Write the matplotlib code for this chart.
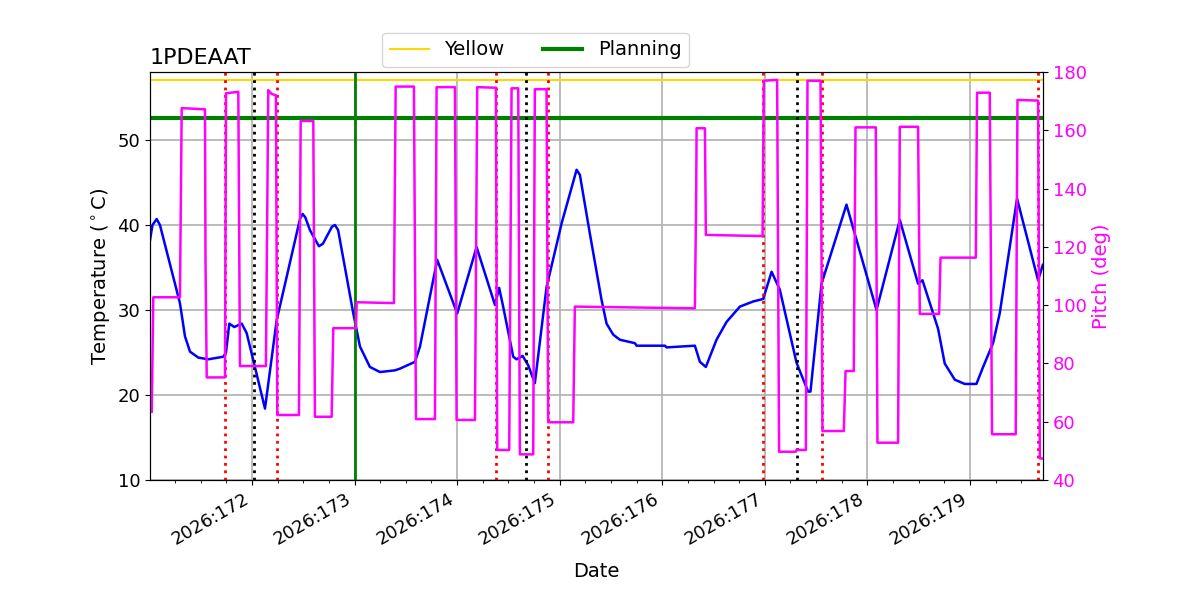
import matplotlib
matplotlib.use("Agg")
import matplotlib.pyplot as plt
import matplotlib.dates as mdates
import numpy as np
from datetime import datetime, timedelta

# temperature trace, day-of-year 2026
temp_day = [171.006, 171.030, 171.071, 171.103, 171.298, 171.347, 171.396, 171.477, 171.574,
            171.720, 171.747, 171.779, 171.828, 171.900, 171.948, 172.029, 172.127, 172.241,
            172.47, 172.494, 172.52, 172.565, 172.653, 172.692, 172.78, 172.809, 172.84,
            172.988, 173.053, 173.150, 173.248, 173.394, 173.443, 173.589, 173.638, 173.806,
            174.001, 174.190, 174.369, 174.410, 174.449, 174.547, 174.580, 174.639, 174.693,
            174.758, 174.872, 175.019, 175.165, 175.197, 175.294, 175.408, 175.457, 175.522,
            175.587, 175.733, 175.750, 176.026, 176.042, 176.318, 176.367, 176.425, 176.529,
            176.627, 176.757, 176.886, 176.984, 177.066, 177.146, 177.309, 177.422, 177.445,
            177.553, 177.796, 178.089, 178.316, 178.494, 178.537, 178.689, 178.754, 178.852,
            178.949, 179.063, 179.128, 179.225, 179.290, 179.459, 179.664, 179.710]
temp_val = [38.2, 40.0, 40.7, 40.0, 30.8, 26.9, 25.1, 24.4, 24.2,
            24.5, 25.0, 28.4, 28.0, 28.4, 27.3, 23.3, 18.4, 28.8,
            40.8, 41.3, 40.9, 39.4, 37.5, 37.8, 39.8, 40.0, 39.4,
            29.6, 25.7, 23.3, 22.7, 22.9, 23.1, 23.9, 25.7, 35.9,
            29.6, 37.4, 30.6, 32.6, 30.4, 24.5, 24.2, 24.6, 23.5,
            21.4, 32.7, 40.2, 46.5, 45.9, 39.0, 31.2, 28.4, 27.1,
            26.5, 26.1, 25.8, 25.8, 25.6, 25.8, 23.9, 23.3, 26.5,
            28.6, 30.4, 31.0, 31.3, 34.5, 32.4, 23.8, 20.4, 20.4,
            33.1, 42.4, 30.0, 40.6, 33.1, 33.5, 27.8, 23.7, 21.8,
            21.3, 21.3, 23.3, 26.1, 29.6, 43.1, 33.5, 35.3]

# pitch trace
pitch_day = [171.023, 171.038, 171.298, 171.315, 171.542, 171.547, 171.559, 171.737, 171.747,
             171.867, 171.883, 172.136, 172.159, 172.19, 172.234, 172.247, 172.458, 172.475,
             172.598, 172.614, 172.777, 172.793, 173.014, 173.021, 173.384, 173.401, 173.579,
             173.599, 173.784, 173.800, 173.979, 173.995, 174.174, 174.196, 174.378, 174.391,
             174.508, 174.531, 174.596, 174.612, 174.742, 174.758, 174.872, 174.888, 175.132,
             175.148, 176.318, 176.33, 176.335, 176.416, 176.425, 176.978, 176.990, 177.120,
             177.139, 177.302, 177.309, 177.400, 177.416, 177.543, 177.562, 177.770, 177.787,
             177.867, 177.884, 178.082, 178.098, 178.299, 178.316, 178.494, 178.511, 178.699,
             178.713, 179.057, 179.069, 179.193, 179.215, 179.446, 179.463, 179.664, 179.681,
             179.710]
pitch_val = [63.4, 102.7, 102.7, 167.6, 167.2, 115.5, 75.2, 75.2, 172.7,
             173.2, 79.1, 79.1, 173.8, 172.5, 172.0, 62.3, 62.3, 163.2,
             163.2, 61.7, 61.7, 92.1, 92.1, 101.0, 100.7, 175.0, 175.0,
             60.9, 60.9, 174.8, 174.8, 60.6, 60.6, 174.8, 174.6, 50.3,
             50.3, 174.4, 174.4, 48.8, 48.8, 174.1, 174.1, 59.8, 59.8,
             99.5, 98.9, 135.0, 160.7, 160.7, 124.1, 123.7, 177.0, 177.3,
             49.7, 49.7, 50.3, 50.3, 177.0, 177.0, 56.8, 56.8, 77.4,
             77.4, 161.0, 161.0, 52.8, 52.8, 161.2, 161.2, 97.0, 97.0,
             116.3, 116.3, 172.9, 172.9, 55.7, 55.7, 170.4, 170.2, 47.4,
             47.4]

red_events = [171.737, 172.244, 174.378, 174.885, 176.980, 177.556, 179.661]
black_events = [172.020, 174.671, 177.312]
planning_event = 173.0
yellow_limit = 57.1
planning_limit = 52.6
x_range = [171.006, 179.71]


def doy(d):
    return datetime(2026, 1, 1) + timedelta(days=d - 1)


plt.rcParams['font.size'] = 13

fig, ax = plt.subplots(figsize=(12, 6), dpi=100)
plt.subplots_adjust(left=0.125, right=0.869, bottom=0.2, top=0.88)

ax.plot([doy(d) for d in temp_day], temp_val, color='blue', lw=1.8)
ax.axhline(yellow_limit, color='gold', lw=1.5, label='Yellow')
ax.axhline(planning_limit, color='green', lw=3, label='Planning')
for d in red_events:
    ax.axvline(doy(d), color='red', ls=':', lw=2)
for d in black_events:
    ax.axvline(doy(d), color='black', ls=':', lw=2)
ax.axvline(doy(planning_event), color='green', lw=2)

ax.set_xlim(doy(x_range[0]), doy(x_range[1]))
ax.set_ylim(10, 58)
ax.set_yticks([10, 20, 30, 40, 50])
ax.xaxis.set_major_locator(mdates.DayLocator())
ax.xaxis.set_minor_locator(mdates.HourLocator(byhour=[0, 6, 12, 18]))
ax.xaxis.set_major_formatter(mdates.DateFormatter('%Y:%j'))
ax.grid(True, color='#b0b0b0', lw=1.2)
ax.set_xlabel('Date', fontsize=14, labelpad=10)
ax.set_ylabel(r'Temperature ($^\circ$C)', fontsize=14)
ax.set_title('1PDEAAT', loc='left', fontsize=16)
plt.setp(ax.get_xticklabels(), rotation=30, ha='right')

ax2 = ax.twinx()
ax2.plot([doy(d) for d in pitch_day], pitch_val, color='magenta', lw=1.8)
ax2.set_ylim(40, 180)
ax2.set_yticks(np.arange(40, 181, 20))
ax2.set_ylabel('Pitch (deg)', color='magenta', fontsize=14)
ax2.tick_params(axis='y', labelcolor='magenta')

ax.legend(loc='lower center', bbox_to_anchor=(0.432, 1.012), ncol=2, borderaxespad=0,
          fontsize=14)

fig.savefig('out.png', dpi=100)
